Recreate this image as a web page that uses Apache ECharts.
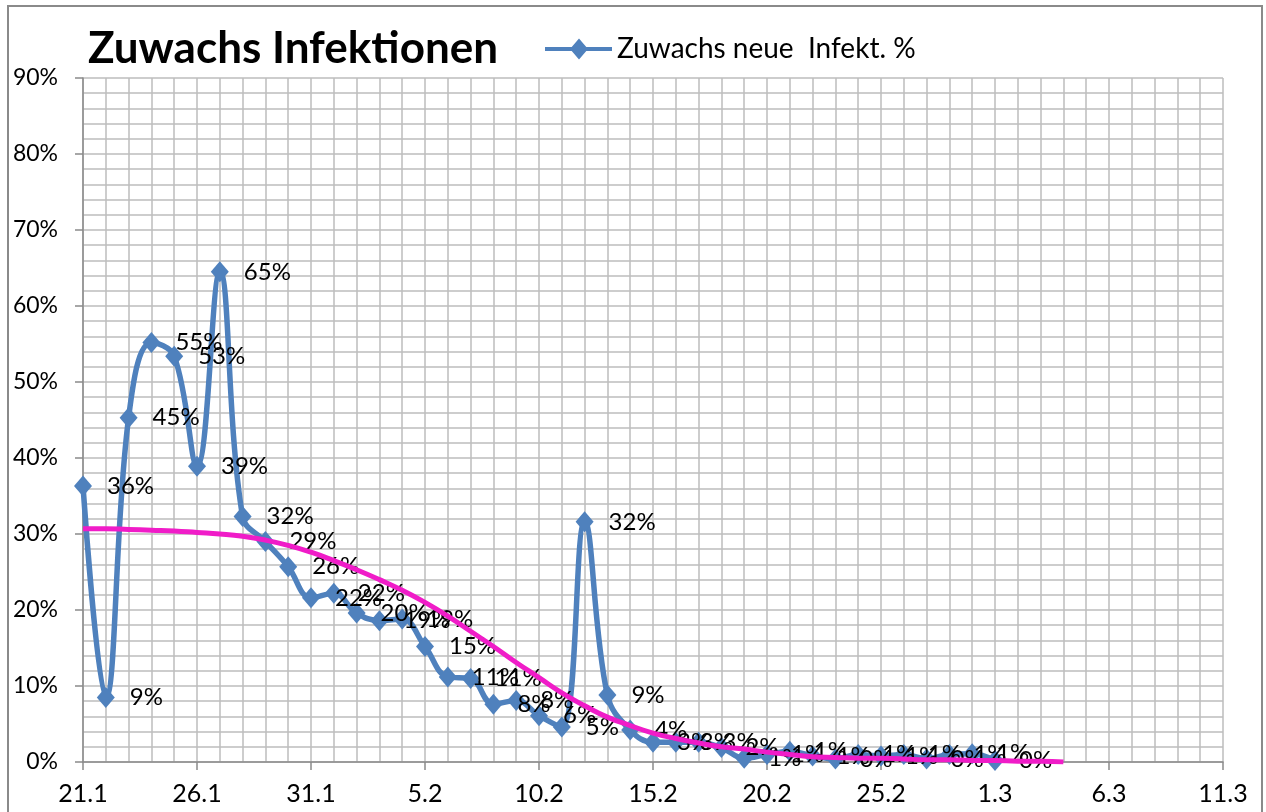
<!DOCTYPE html>
<html>
<head>
<meta charset="utf-8">
<title>Zuwachs Infektionen</title>
<script src="https://cdn.jsdelivr.net/npm/echarts@6/dist/echarts.min.js"></script>
<style>
  html, body { margin: 0; padding: 0; background: #fff; }
  #chart { width: 1266px; height: 812px; }
</style>
</head>
<body>
<div id="chart"></div>
<script>
// Datum (Tag.Monat), ein Eintrag pro Tag
var days = [
  '21.1','22.1','23.1','24.1','25.1','26.1','27.1','28.1','29.1','30.1','31.1',
  '1.2','2.2','3.2','4.2','5.2','6.2','7.2','8.2','9.2','10.2','11.2','12.2','13.2','14.2',
  '15.2','16.2','17.2','18.2','19.2','20.2','21.2','22.2','23.2','24.2','25.2','26.2','27.2',
  '28.2','29.2','1.3','2.3','3.3','4.3','5.3','6.3','7.3','8.3','9.3','10.3','11.3'
];
// Zuwachs neue Infekt. in %
var zuwachs = [
  36.3, 8.5, 45.3, 55.2, 53.4, 38.9, 64.5, 32.3, 29.0, 25.7, 21.6,
  22.2, 19.6, 18.6, 18.8, 15.2, 11.2, 11.0, 7.6, 8.1, 6.1, 4.6,
  31.6, 8.8, 4.2, 2.6, 2.6, 2.6, 1.9, 0.5, 1.0, 1.4, 0.8,
  0.4, 1.0, 0.8, 1.0, 0.4, 1.0, 1.1, 0.2
];
// Trendlinie
var trend = [
  30.7, 30.7, 30.6, 30.5, 30.4, 30.2, 30.0, 29.7, 29.2, 28.5, 27.6,
  26.5, 25.3, 24.0, 22.6, 21.0, 19.2, 17.2, 15.2, 13.1, 11.1, 9.1,
  7.4, 5.9, 4.8, 3.8, 3.1, 2.5, 2.0, 1.7, 1.3, 1.0, 0.7,
  0.6, 0.5, 0.5, 0.4, 0.3, 0.3, 0.2, 0.2, 0.1, 0.1, 0.0
];
var yTicks = [0, 10, 20, 30, 40, 50, 60, 70, 80, 90];

var font = 'Lato, "Open Sans", sans-serif';
var gridColor = '#bdbdbd';
var blue = '#4f81bd';

var chart = echarts.init(document.getElementById('chart'));
var option = {
  backgroundColor: '#fff',
  animation: false,
  title: {
    text: 'Zuwachs Infektionen',
    left: 83,
    top: 22,
    textStyle: { fontFamily: font, fontSize: 44, fontWeight: 'bold', color: '#000' }
  },
  legend: {
    data: [{
      name: 'Zuwachs neue  Infekt. %',
      // Linie mit Raute
      icon: 'path://M0,8.5 L67,8.5 L67,12.5 L0,12.5 Z M34,0 L43,10.5 L34,21 L25,10.5 Z'
    }],
    left: 540,
    top: 30,
    itemWidth: 67,
    itemHeight: 21,
    itemGap: 5,
    textStyle: { fontFamily: font, fontSize: 28, color: '#000' }
  },
  graphic: [{
    type: 'rect',
    z: -1,
    shape: { x: 8, y: 6, width: 1254, height: 830 },
    style: { fill: 'none', stroke: '#8a8a8a', lineWidth: 2 }
  }],
  grid: { left: 83, right: 43, top: 78, bottom: 50 },
  xAxis: {
    type: 'category',
    data: days,
    boundaryGap: false,
    axisLine: { lineStyle: { color: '#8a8a8a', width: 1.5 } },
    axisTick: { interval: 4, length: 8, lineStyle: { color: '#8a8a8a', width: 1.5 } },
    axisLabel: { interval: 4, margin: 19, fontFamily: font, fontSize: 25, color: '#000' },
    splitLine: { show: true, interval: 0, lineStyle: { color: gridColor, width: 1.5 } }
  },
  yAxis: {
    type: 'value',
    min: yTicks[0],
    max: yTicks[yTicks.length - 1],
    interval: 10,
    axisLine: { show: true, lineStyle: { color: '#8a8a8a', width: 1.5 } },
    axisTick: { show: true, length: 8, lineStyle: { color: '#8a8a8a', width: 1.5 } },
    axisLabel: { margin: 25, fontFamily: font, fontSize: 23, color: '#000', formatter: '{value}%' },
    splitLine: { lineStyle: { color: gridColor, width: 1.5 } },
    minorTick: { show: false, splitNumber: 5 },
    minorSplitLine: { show: true, lineStyle: { color: gridColor, width: 1.5 } }
  },
  series: [
    {
      name: 'Zuwachs neue  Infekt. %',
      type: 'line',
      data: zuwachs,
      smooth: 0.4,
      symbol: 'diamond',
      symbolSize: [18, 21],
      showAllSymbol: true,
      lineStyle: { color: blue, width: 5.5 },
      itemStyle: { color: blue },
      label: {
        show: true,
        position: 'right',
        distance: 15,
        fontFamily: font,
        fontSize: 24,
        color: '#000',
        formatter: function (p) { return Math.round(p.value) + '%'; }
      },
      z: 2
    },
    {
      name: 'Trend',
      type: 'line',
      data: trend,
      smooth: true,
      showSymbol: false,
      lineStyle: { color: '#f01cc8', width: 5 },
      itemStyle: { color: '#f01cc8' },
      z: 3
    }
  ]
};
chart.setOption(option);
</script>
</body>
</html>
